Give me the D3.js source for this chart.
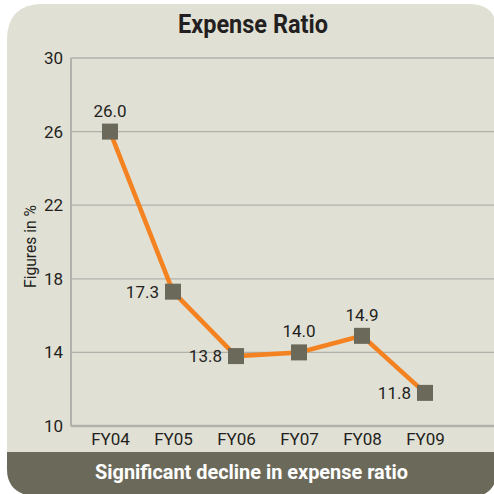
<!DOCTYPE html>
<html>
<head>
<meta charset="utf-8">
<script src="https://cdn.jsdelivr.net/npm/d3@7"></script>
<style>
  body { margin: 0; background: #fff; }
  svg { display: block; }
  text { font-family: 'Roboto', sans-serif; }
</style>
</head>
<body>
<svg class="expRatio" width="494" height="494"></svg>
<script>
const years = ['FY04', 'FY05', 'FY06', 'FY07', 'FY08', 'FY09'];
const ratios = [26.0, 17.3, 13.8, 14.0, 14.9, 11.8];
const yTicks = [10, 14, 18, 22, 26, 30];
// where each value label sits relative to its marker
const labelSide = ['top', 'left', 'left', 'top', 'top', 'left'];

function drawExpenseRatio(){
  const svg = d3.select('svg.expRatio');

  const x = d3.scalePoint()
      .domain(years)
      .range([110, 425]);

  const y = d3.scaleLinear()
      .domain([10, 30])
      .range([426, 58]);

  // panel background with rounded corners
  const L = 7, T = 4, R = 497, B = 497;
  const panelPath = `M${L},${T + 36} Q${L},${T} ${L + 36},${T}
    L${R - 28},${T} Q${R},${T} ${R},${T + 28}
    L${R},${B - 28} Q${R},${B} ${R - 28},${B}
    L${L + 36},${B} Q${L},${B} ${L},${B - 28} Z`;

  svg.append('defs').append('clipPath')
      .attr('id', 'panelClip')
      .append('path')
      .attr('d', panelPath);

  svg.append('path')
      .attr('d', panelPath)
      .style('fill', '#e1e0d5');

  svg.append('rect')
      .attr('x', 0)
      .attr('y', 452)
      .attr('width', 494)
      .attr('height', 60)
      .attr('clip-path', 'url(#panelClip)')
      .style('fill', '#6b6a5a');

  // condensed look: squeeze text to the widths seen in the original
  svg.append('text')
      .attr('x', 178)
      .attr('y', 33)
      .attr('textLength', 150)
      .attr('lengthAdjust', 'spacingAndGlyphs')
      .text('Expense Ratio')
      .style('font-size', '25px')
      .style('font-weight', 700)
      .style('fill', '#231f20');

  // grid lines
  svg.append('g')
      .selectAll('line')
      .data(yTicks.filter(d => d > 10))
      .enter()
      .append('line')
      .attr('x1', 71)
      .attr('x2', 494)
      .attr('y1', d => y(d))
      .attr('y2', d => y(d))
      .style('stroke', '#b1b0ab')
      .style('stroke-width', 1.3);

  // axes
  const yAxis = svg.append('g')
      .attr('transform', 'translate(71, 0)')
      .call(d3.axisLeft(y).tickValues(yTicks).tickSize(0).tickPadding(8));

  const xAxis = svg.append('g')
      .attr('transform', `translate(0, ${y(10)})`)
      .call(d3.axisBottom(x).tickSize(0).tickPadding(7));

  yAxis.select('.domain')
      .attr('d', `M0,${y(30)}V${y(10)}`)
      .style('stroke', '#b1b0ab')
      .style('stroke-width', 2);
  xAxis.select('.domain')
      .attr('d', 'M71,0H494')
      .style('stroke', '#b1b0ab')
      .style('stroke-width', 2.5);

  svg.selectAll('.tick text')
      .style('font-family', "'Roboto', sans-serif")
      .style('font-size', '17px')
      .style('fill', '#231f20');

  svg.append('text')
      .attr('transform', 'translate(36, 288) rotate(-90)')
      .attr('textLength', 83)
      .attr('lengthAdjust', 'spacingAndGlyphs')
      .text('Figures in %')
      .style('font-size', '16px')
      .style('fill', '#231f20');

  // line + markers
  const line = d3.line()
      .x((d, i) => x(years[i]))
      .y(d => y(d));

  svg.append('path')
      .datum(ratios)
      .attr('d', line)
      .style('fill', 'none')
      .style('stroke', '#f58220')
      .style('stroke-width', 4.5);

  svg.append('g')
      .selectAll('rect')
      .data(ratios)
      .enter()
      .append('rect')
      .attr('x', (d, i) => x(years[i]) - 8)
      .attr('y', d => y(d) - 8)
      .attr('width', 16)
      .attr('height', 16)
      .style('fill', '#6b6a5a');

  svg.append('g')
      .selectAll('text')
      .data(ratios)
      .enter()
      .append('text')
      .attr('x', (d, i) => labelSide[i] === 'top' ? x(years[i]) : x(years[i]) - 14)
      .attr('y', (d, i) => labelSide[i] === 'top' ? y(d) - 15 : y(d) + 6)
      .text(d => d.toFixed(1))
      .style('text-anchor', (d, i) => labelSide[i] === 'top' ? 'middle' : 'end')
      .style('font-size', '17px')
      .style('fill', '#231f20');

  svg.append('text')
      .attr('x', 95)
      .attr('y', 479)
      .attr('textLength', 313)
      .attr('lengthAdjust', 'spacingAndGlyphs')
      .text('Significant decline in expense ratio')
      .style('font-size', '20px')
      .style('font-weight', 700)
      .style('fill', '#fff');
}

drawExpenseRatio();
</script>
</body>
</html>
